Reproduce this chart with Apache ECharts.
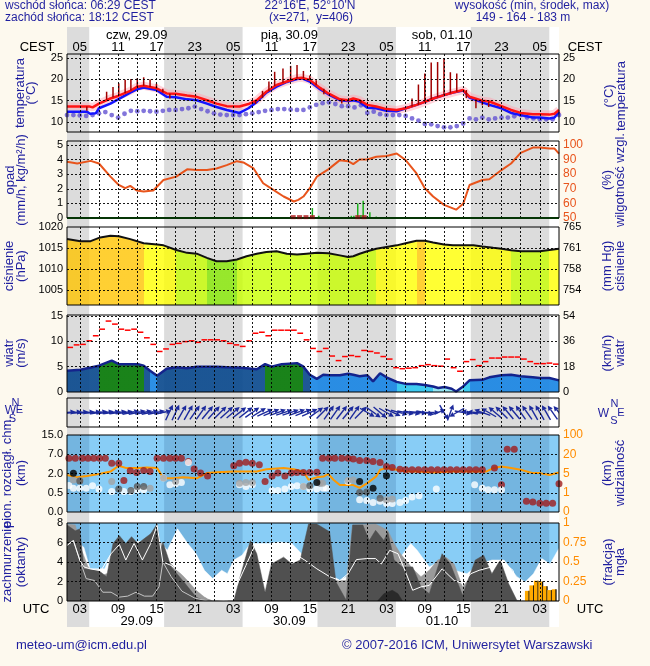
<!DOCTYPE html>
<html><head><meta charset="utf-8">
<script src="https://cdn.jsdelivr.net/npm/echarts@6.0.0/dist/echarts.min.js"></script>
<style>html,body{margin:0;padding:0;background:#fdf9ee;}#chart{width:650px;height:666px;}</style>
</head><body><div id="chart"></div>
<script>
// ================= DATA (hours counted from 29.09 00 UTC) =================
const nightBands = [[1, 4.48], [16.2, 28.48], [40.2, 52.48], [64.2, 76.48]];
const timeTicks = [3, 9, 15, 21, 27, 33, 39, 45, 51, 57, 63, 69, 75];
const utcLabels = ['03','09','15','21','03','09','15','21','03','09','15','21','03'];
const cestLabels = ['05','11','17','23','05','11','17','23','05','11','17','23','05'];
const dayCenters = [11.9, 35.8, 59.7];
const dayLabels = ['czw, 29.09', 'pią, 30.09', 'sob, 01.10'];
const dateLabels = ['29.09', '30.09', '01.10'];

const tempTicks = [10, 15, 20, 25];
const precipTicks = [0, 1, 2, 3, 4, 5];
const humidityTicks = [50, 60, 70, 80, 90, 100];
const pressureTicks = [1005, 1010, 1015, 1020];
const windTicks = [0, 5, 10, 15];
const baseLabels = ['0.0', '0.5', '2.0', '7.0', '15.0'];
const visLabels = ['0', '1', '5', '20', '100'];
const cloudTicks = [0, 2, 4, 6, 8];
const fogTicks = [0, 0.25, 0.5, 0.75, 1];

const temperature = [[1,13.6],[4.6,13.6],[5,13.4],[6,14.3],[7.8,15.5],[9,16.1],[10.9,17.3],[12,18.3],[13,18.5],[15,17.9],[16.6,16.7],[18,16.6],[19.8,16.2],[21.3,15.9],[22.9,15.1],[24.4,14.3],[26,13.7],[28,13.6],[29.4,14.2],[30.7,15.1],[32.2,17.1],[33.8,18.7],[35.4,19.5],[37,20.3],[37.7,20.4],[39,19.9],[40.6,18.0],[41.9,16.7],[43.7,15.3],[45,15.1],[45.8,15.5],[46.8,15.1],[48,14.0],[49.4,13.6],[51,13.0],[52.6,12.8],[54,13.2],[55.7,14.0],[57,14.7],[58.3,15.5],[60,16.3],[61.4,16.9],[63,17.5],[64,15.9],[66,15.0],[67.1,14.8],[69,13.7],[70.5,12.8],[72,12.1],[73.9,11.8],[75,11.8],[76.5,11.7],[77.3,11.9],[78,12.8]];
const perceived = [[1,12.4],[4.1,12.4],[4.6,11.9],[5.5,12.0],[6,13.2],[7.8,14.3],[9,15.3],[10.9,16.9],[12,17.7],[13,18.1],[15,17.5],[16.6,15.9],[18,15.8],[19.8,15.3],[21.3,15.1],[22.9,14.3],[24.4,13.5],[26,12.8],[28,12.1],[29.4,13.2],[30.7,14.7],[32.2,16.9],[33.8,18.3],[35.4,19.4],[37,20.1],[37.7,20.3],[39,19.5],[40.6,17.7],[41.9,16.5],[43.7,15.1],[45,14.9],[45.8,15.1],[46.8,14.7],[48,13.3],[49.4,13.2],[51,12.6],[52.6,12.5],[54,13.2],[55.7,14.0],[57,14.7],[58.3,15.5],[60,16.3],[61.4,16.9],[63,17.4],[64,15.7],[66,14.6],[67.1,14.0],[69,13.2],[70.5,12.1],[72,11.6],[73.9,11.0],[75,11.0],[76.5,10.8],[77.3,11.0],[78,12.4]];
// dew point, one value per hour 1..78
const dewPoint = [11.6,11.6,11.5,11.4,11.6,12.0,12.3,11.6,11.0,11.9,12.6,12.5,12.6,12.5,12.4,12.6,12.8,12.8,13.0,13.2,13.6,13.0,12.5,12.0,11.7,11.6,11.6,11.6,11.8,12.0,12.3,12.6,12.8,13.0,13.0,12.9,12.8,12.8,13.4,14.0,14.4,14.6,14.2,13.7,13.7,13.4,13.9,12.1,12.4,11.8,11.6,11.6,11.6,11.4,10.8,10.3,9.5,9.4,9.0,8.7,8.7,9.0,9.6,10.8,10.6,11.0,10.6,10.8,11.0,11.0,11.3,11.6,11.0,10.8,10.6,10.6,10.6,11.6];
// [hour, low, high]
const tempSpread = [[4.1,12.6,13.6],[7.2,15.2,17.1],[8.2,15.8,18.2],[9.1,16.2,19.1],[10.1,16.8,19.9],[11,17.4,20.1],[12,18.2,20.3],[13,18.5,20.5],[14,18.2,20.0],[15,17.9,19.0],[16,16.9,17.8],[17.1,15.5,16.6],[30.5,14.2,15.0],[31.6,15.6,17.3],[32.6,17.3,19.5],[33.5,18.4,21.8],[34.8,19.2,22.6],[36,19.8,23.2],[37,20.3,23.4],[38,20.3,22.0],[39,19.9,20.9],[40,18.6,19.8],[41.2,16.5,17.8],[44,14.3,15.3],[47,14.3,15.1],[55,13.6,15.5],[56,14.0,18.8],[57,14.7,21.4],[58,15.3,24.0],[59,15.8,24.1],[60,16.3,24.8],[61,16.7,21.7],[62,17.1,21.4],[63.5,15.6,17.5],[65,13.2,15.3],[66,13.9,15.0],[67,13.5,14.8]];

const humidity = [[1,88.5],[2.6,87.3],[4.7,89.1],[6,87.3],[7.8,78.3],[9.1,72.6],[10.1,70.4],[10.9,72],[11.9,68.8],[13,68.1],[14.5,68.8],[16.1,76],[18.1,78.3],[19.8,83.3],[21.3,82.8],[22.9,82.8],[24.4,83.9],[26,86.2],[27.6,88.9],[28.6,88],[30.2,83.9],[31.7,73.8],[33.3,69.2],[34.9,64.7],[36.5,61.3],[37.2,62.4],[38,64.7],[39,70.4],[40.1,78.3],[41.9,83.3],[43.7,89.6],[45,88.9],[45.8,86.9],[46.8,90],[48,90],[49.4,91.9],[51,92.5],[52.6,94.1],[54,89.6],[55.7,80.5],[57,70.4],[58.3,64.7],[60,59],[61.9,55.7],[63,59.7],[64,72.6],[66,76],[67.1,76.5],[69,82.8],[70.5,87.3],[72,94.6],[73.9,98.2],[75,98.2],[76.5,97.5],[77.3,97.5],[78,94.1]];
const precipitation = [[39.4,0.68],[40.4,0.16],[45.5,0.15],[45.9,0.15],[46.5,1.0],[47,0.2],[47.35,1.18],[47.9,0.1],[48.4,0.4],[49.4,0.1],[50.4,0.06]];
const convectiveMarks = [36.4, 37.4, 38.4, 39.4, 46.5, 47.5];

const pressure = [[1,1017.2],[3.1,1016.7],[4.7,1016.7],[6.2,1017.6],[7.8,1018.0],[9.1,1017.9],[10.9,1017.2],[13,1016.2],[15.1,1015.9],[16.1,1015.7],[18.1,1014.6],[19.8,1013.9],[21.3,1013.7],[22.9,1012.7],[24.4,1011.9],[26,1011.9],[27.6,1012.3],[29.1,1013.1],[30.7,1013.7],[32.2,1014.1],[33.8,1014.3],[35.4,1013.7],[37,1013.5],[38.5,1013.7],[40.1,1013.9],[41.9,1013.8],[43.7,1013.3],[45,1012.9],[45.8,1013.1],[46.8,1013.7],[48,1014.3],[49.4,1014.9],[51,1015.3],[52.6,1015.7],[54,1016.2],[55.7,1016.8],[57,1016.8],[58.3,1016.4],[60,1015.9],[61.4,1015.7],[63,1015.7],[64.6,1015.7],[66,1015.4],[67.7,1015.1],[69,1014.9],[70.5,1014.5],[72,1014.3],[73.9,1014.3],[75,1014.3],[76.5,1014.6],[78,1014.9]];

const windSpeed = [[1,4.2],[3.1,4.4],[6,5.2],[8,6.2],[9.1,5.5],[12.1,5.5],[13,5.2],[14,4.2],[15.1,3.2],[16.6,4.6],[18.1,4.9],[19.8,4.7],[21.3,5.0],[22.9,5.0],[24.4,5.0],[26,4.9],[27.6,4.85],[29.1,4.7],[30.7,4.5],[32,5.5],[33,5.0],[34.6,5.5],[37,5.7],[38,5.0],[39,3.4],[40.1,2.6],[41.1,3.4],[42.1,3.3],[43.7,3.3],[45,3.6],[45.8,3.4],[46.8,3.1],[48,3.3],[48.9,2.1],[50,3.7],[51,2.9],[52.6,2.0],[54,1.6],[55.7,1.6],[57,1.4],[58.3,1.1],[59.1,0.8],[60.1,1.0],[61.2,0.65],[61.9,0.1],[63,1.1],[64,2.3],[66,2.4],[67.1,2.9],[69,3.3],[70.5,3.4],[72,3.1],[73.9,2.9],[75,2.75],[76.5,2.75],[78,2.3]];
// gusts, one value per hour 1..77 (hour h to h+1)
const gusts = [8.8,9.3,9.4,10.1,11.1,12.4,14.0,13.4,12.4,12.2,12.4,11.8,10.7,9.4,8.0,8.5,9.4,9.6,9.95,10.1,9.8,10.3,10.3,10.3,10.1,9.6,9.3,9.0,10.1,11.6,11.8,11.1,12.2,12.2,12.2,12.2,11.6,10.3,8.6,8.0,8.6,7.1,6.2,7.0,7.2,7.0,8.2,8.0,7.7,7.0,6.5,4.8,4.6,4.7,4.8,5.2,5.4,5.2,5.1,6.5,4.8,4.1,6.0,6.4,5.2,6.0,6.7,6.7,6.9,6.9,6.9,6.5,6.0,5.6,5.6,5.7,5.5];
// wind direction (deg, from), one per hour 1..78
const windDirection = [265,265,265,265,265,262,262,262,262,262,258,258,258,258,258,258,205,205,210,210,215,215,220,222,225,228,230,232,232,235,238,245,248,250,252,252,250,248,245,235,225,215,215,218,220,215,225,300,305,310,300,295,285,280,280,275,280,270,250,330,200,60,280,100,95,110,120,130,135,140,140,145,145,150,150,150,145,140];

// visibility (km) and cloud heights (km)
const visibility = [[1,4.7],[2.6,4.2],[4.1,4.5],[6,4.9],[7.8,6.5],[9.1,11],[10.3,9.2],[12.1,9.2],[13.5,9.6],[15.1,9.2],[16.1,4.0],[17.6,4.0],[19.2,4.2],[21.3,4.0],[22.9,5.3],[24.4,6.0],[27.1,6.5],[29.1,6.5],[30.7,6.5],[32.2,8.3],[34.9,9.2],[36.5,8.3],[38,6.5],[38.8,3.7],[40.1,4.2],[41.2,4.4],[41.9,4.9],[42.7,3.7],[43.7,2.6],[45,2.6],[45.8,2.6],[46.8,2.0],[48,3.0],[49.4,4.4],[50,7.9],[51,9.2],[52.6,7.9],[54,6.5],[55.7,6.5],[58.3,5.8],[61.4,6.5],[64,6.5],[66.6,6.5],[67.7,9.2],[69,10.4],[70.5,9.2],[72,7.9],[73.9,5.3],[75,5.3],[76.5,4.7],[78,5.8]];
const cloudTop = [[1.3,5.95],[2.3,5.95],[3.4,5.95],[4.3,5.95],[5.2,5.95],[6.1,5.95],[7,5.95],[8,4.66],[9.1,4.66],[9.9,1.46],[10.9,2.7],[11.9,2.26],[13,2.78],[14,2.5],[15.1,5.95],[16.1,5.95],[17.1,5.95],[18,5.95],[18.9,5.95],[20,5.1],[20.9,3.2],[21.9,2.1],[23,1.8],[27.1,4.0],[28,4.66],[29,4.9],[30,4.66],[31.1,4.25],[32,1.38],[33.1,1.8],[34,2.1],[35.1,1.8],[36.1,2.1],[37,2.26],[38,2.26],[39,2.26],[40.1,2.3],[41,5.95],[42,5.95],[42.9,5.95],[44,5.95],[45,5.95],[45.8,5.75],[46.8,5.4],[47.9,5.4],[48.9,5.1],[50,4.85],[51,3.8],[51.9,3.55],[53.1,3.1],[54,2.95],[55,2.95],[56,2.95],[57,2.95],[58,2.95],[59,2.95],[60,2.95],[61,2.95],[62,2.95],[63,2.95],[64,2.95],[65,2.95],[66,2.95],[67.9,3.4],[69,1.12],[69.9,9.1],[71,9.1],[72.9,0.28],[73.9,0.26],[75,0.23],[76,0.23],[77,0.23],[78,1.2]];
const baseWhite = [[1.3,1.07],[2,0.86],[3,0.86],[4,0.86],[5,1.04],[6,0.79],[8,0.6],[9.9,0.6],[11,0.6],[12,0.73],[13,0.73],[16.1,1.64],[17.1,1.12],[18,1.2],[18.9,1.3],[20,4.85],[28,1.12],[29,0.99],[30,1.12],[33.1,0.68],[34,0.68],[35.1,0.79],[36.1,0.99],[37,1.04],[38,0.99],[39,0.79],[40.1,0.79],[41.1,0.86],[41.6,0.86],[45,1.38],[46.8,0.32],[47.9,0.3],[48.9,0.25],[50,0.28],[51,0.22],[51.9,0.22],[53.1,0.25],[54,0.3],[55,0.39],[56.1,0.42],[58.8,0.79],[64.8,1.12],[66,0.86],[66.9,0.73],[67.9,0.73],[69,0.73]];
const baseGray = [[2,1.5],[3,1.46],[8,1.38],[14,0.86],[16.1,1.64],[18,1.38],[28,1.25],[29,1.3],[30,1.3],[38,0.99],[40.6,1.25],[41,1.25],[45,1.46],[45.8,1.5],[51,0.32],[51.9,0.34]];
const baseDark = [[3,1.42],[9.1,0.79],[11,0.68],[12,0.99],[13,0.99],[39,1.04],[46.8,0.52],[47.9,0.55],[50,0.36]];
const baseBlack = [[2,2.06],[40.1,1.3],[46.8,1.38],[48.9,0.86],[51,1.82]];

// cloud cover (oktas)
const cloudHigh = [[1,6.0],[1.4,6.05],[2,6.4],[3.65,5.5],[4.6,3.3],[6.9,3.3],[8.1,5.2],[9.5,5.7],[11.5,6.05],[13.4,6.2],[15.1,6.4],[16.7,5.2],[18.3,7.4],[19.9,5.9],[21.2,4.85],[22.5,3.15],[23.8,2.3],[25.2,3.15],[26.1,2.8],[27.1,4.2],[28.4,4.7],[29.7,5.9],[32.6,5.9],[34.3,6.05],[36.2,5.9],[38.2,4.5],[40.1,3.8],[42.1,2.8],[43.7,2.1],[46,3.0],[47.3,3.65],[49.3,4.2],[51.2,5.2],[53.2,4.5],[54.8,5.9],[55.8,5.2],[57.7,3.5],[59.7,4.2],[61.6,3.15],[63.6,2.8],[65.5,3.8],[67.5,4.2],[69.4,4.2],[71.4,2.5],[72.7,1.95],[74,2.8],[75.3,4.35],[76.6,3.8],[78,5.4]];
const cloudMid = [[1,7.9],[2.3,7.8],[3.3,5.2],[4.3,3.5],[6,2.5],[8,3.0],[10,3.0],[12,3.0],[14,3.5],[15.7,6.0],[16.7,4.2],[18,3.3],[19.3,2.5],[21.2,1.1],[22.5,0.4],[23.8,0],[41,0],[42.7,2.1],[44.7,2.1],[45.7,7.8],[49.3,7.9],[51.2,7.25],[52.2,5.9],[53.2,4.85],[55.1,3.3],[56.4,2.5],[57.7,3.15],[59,4.2],[60.3,4.5],[61.6,3.8],[62.9,1.45],[64.2,2.5],[66,2.0],[68,1.5],[70,0.8],[71.4,0],[78,0]];
const cloudLow = [[1,7.8],[2.3,7.2],[3,7.4],[3.65,3.3],[5.9,3.15],[7.2,2.5],[8.2,5.9],[9.2,6.7],[10.2,5.9],[11.1,6.6],[12.1,5.9],[13.1,6.4],[14.1,6.9],[15.1,7.9],[15.7,5.2],[16,6.05],[17.3,3.5],[19.3,1.95],[21.2,0.4],[22.5,0],[27.1,0],[28.1,2.5],[29.7,6.2],[30.7,4.85],[32,0.9],[33,3.8],[34.9,4.5],[36.2,3.8],[37.5,4.2],[38.8,7.9],[40.1,7.9],[42.1,7.1],[43.1,1.95],[44.7,0.07],[45.7,7.8],[47.3,7.8],[48.3,6.2],[49.3,7.25],[50.6,6.2],[51.2,7.1],[52.2,4.2],[53.5,3.5],[55.1,3.5],[56.4,1.45],[57.7,0.75],[59.7,4.85],[61,3.8],[62.9,0.6],[64.9,4.2],[66.2,4.7],[67.5,2.8],[68.8,4.2],[70.1,1.8],[71.4,0.07],[72.7,0],[78,0]];
const cloudVeryLow = [[49.6,0],[50.6,0.75],[51.9,1.1],[52.8,0.75],[53.5,0]];
const cloudLineWhite = [[1,5.7],[2,6.2],[3,4.2],[3.65,3.5],[4.6,3.3],[6.3,3.1],[7.9,4.85],[9.2,5.8],[10.2,4.2],[11.5,5.9],[12.8,4.2],[14.1,5.9],[15.1,7.75],[16,4.0],[17.3,3.65],[19,2.8],[21,1.5],[23,0.3],[26,0],[27.5,1.5],[29,3.65],[30.4,5.7],[31.7,5.5],[33.6,5.2],[36.2,5.0],[38.2,4.2],[40.1,3.3],[42.1,2.5],[43.7,2.1],[45,2.8],[46.3,4.25],[47.9,4.35],[49.3,4.35],[50.2,3.8],[51.5,5.2],[52.8,4.85],[54.1,2.8],[55.1,1.1],[56.4,1.45],[57.7,1.6],[59.7,3.3],[61.6,2.1],[62.9,1.8],[64.2,2.8],[65.5,3.15],[67.5,3.5],[68.8,4.2],[70.8,3.15],[72.1,0],[78,0]];
const cloudLineGray = [[1,5.7],[2,6.2],[3,4.2],[4,2.3],[5.3,2.1],[6.6,0.9],[7.9,0.9],[9.2,0.4],[10.5,0.5],[11.8,0.9],[13.1,0.5],[14.4,0.5],[15.4,1.45],[16,4.0],[17.3,2.5],[19,1.0],[21,0.3],[23,0]];
const fogFraction = [[73,0.13],[73.7,0.2],[74.4,0.26],[75.1,0.25],[75.8,0.19],[76.5,0.14],[77.2,0.15]];

// ================= HELPERS =================
const H0 = 1, H1 = 78;
const FONT = '"Liberation Sans", Arial, sans-serif';
const NAVY = '#1f1f9f';
const baseBreaks = [0, 0.5, 2, 7, 15];
const visBreaks = [0, 1, 5, 20, 100];
function toLevel(v, br) {
  for (let i = 1; i < br.length; i++) if (v <= br[i]) return (i - 1) + (v - br[i - 1]) / (br[i] - br[i - 1]);
  return br.length - 1;
}
const gridHours = []; for (let h = 3; h <= 75; h += 3) gridHours.push(h);

const panels = [
  {top: 54, height: 78},   // 1 temperature
  {top: 141, height: 77},  // 2 precipitation
  {top: 227, height: 78},  // 3 pressure
  {top: 315, height: 77},  // 4 wind
  {top: 398, height: 29},  // 5 wind direction
  {top: 435, height: 77},  // 6 cloud base / visibility
  {top: 523, height: 78}   // 7 cloud cover
];
const grids = [{left: 67, top: 27, width: 492, height: 600, show: true, backgroundColor: '#ffffff', borderWidth: 0, z: 0}]
  .concat(panels.map(p => ({left: 67, top: p.top, width: 492, height: p.height, show: true,
    backgroundColor: 'transparent', borderColor: '#000', borderWidth: 1, z: 15})));

function xAx(g, o) {
  return Object.assign({type: 'value', gridIndex: g, min: H0, max: H1, z: 20,
    axisLine: {show: false}, axisTick: {show: false}, splitLine: {show: false}, axisLabel: {show: false}}, o || {});
}
function yAx(g, min, max, o) {
  return Object.assign({type: 'value', gridIndex: g, min: min, max: max, z: 20,
    axisLine: {show: false}, axisTick: {show: false}, splitLine: {show: false}, axisLabel: {show: false}}, o || {});
}
function lab(values, fmt, color, extra) {
  return Object.assign({show: true, customValues: values, formatter: fmt, color: color || '#000',
    fontSize: 11, fontFamily: FONT, margin: 4}, extra || {});
}
const timeLab = {fontSize: 13, fontFamily: FONT, color: '#000'};

const xAxes = [];
for (let g = 0; g < 8; g++) xAxes.push(xAx(g));
xAxes[1] = xAx(1, {position: 'top', axisLabel: Object.assign({show: true, customValues: timeTicks,
  formatter: v => cestLabels[timeTicks.indexOf(v)] || '', margin: 0}, timeLab)});
xAxes[7] = xAx(7, {position: 'bottom', axisLabel: Object.assign({show: true, customValues: timeTicks,
  formatter: v => utcLabels[timeTicks.indexOf(v)] || '', margin: 2}, timeLab)});
xAxes.push(xAx(1, {position: 'top', offset: 12.5, axisLabel: Object.assign({show: true, customValues: dayCenters,
  formatter: v => dayLabels[dayCenters.indexOf(v)] || '', margin: 0}, timeLab)}));
xAxes.push(xAx(7, {position: 'bottom', offset: 11.5, axisLabel: Object.assign({show: true, customValues: dayCenters,
  formatter: v => dateLabels[dayCenters.indexOf(v)] || '', margin: 2}, timeLab)}));

const ORANGE = '#ff8c00', HUMC = '#e8541c';
const yAxes = [
  yAx(0, 0, 1),
  yAx(1, 7.6, 26, {axisLabel: lab(tempTicks, v => String(v))}),
  yAx(1, 7.6, 26, {position: 'right', axisLabel: lab(tempTicks, v => String(v))}),
  yAx(2, 0, 5.27, {axisLabel: lab(precipTicks, v => String(v))}),
  yAx(2, 50, 102.7, {position: 'right', axisLabel: lab(humidityTicks, v => String(v), HUMC, {fontSize: 12})}),
  yAx(3, 1001.4, 1020.1, {axisLabel: lab(pressureTicks, v => String(v))}),
  yAx(3, 1001.4, 1020.1, {position: 'right', axisLabel: lab(pressureTicks, v => String(Math.round(v * 0.750062)))}),
  yAx(4, 0, 15.2, {axisLabel: lab(windTicks, v => String(v))}),
  yAx(4, 0, 15.2, {position: 'right', axisLabel: lab(windTicks, v => String(Math.round(v * 3.6)))}),
  yAx(5, 0, 1),
  yAx(6, 0, 4, {axisLabel: lab([0, 1, 2, 3, 4], v => baseLabels[v])}),
  yAx(6, 0, 4, {position: 'right', axisLabel: lab([0, 1, 2, 3, 4], v => visLabels[v], ORANGE, {fontSize: 12})}),
  yAx(7, 0, 8, {axisLabel: lab(cloudTicks, v => String(v))}),
  yAx(7, 0, 1, {position: 'right', axisLabel: lab(fogTicks, v => String(v), ORANGE, {fontSize: 12})})
];
const leftY = [null, 1, 3, 5, 7, 9, 10, 12];

const S = [];
function add(s) { S.push(Object.assign({animation: false, silent: true}, s)); return S.length - 1; }
function dotted(xs, ys) {
  return {silent: true, symbol: ['none', 'none'], z: 10, label: {show: false}, emphasis: {disabled: true},
    lineStyle: {color: '#000', type: [2, 2], width: 1, opacity: 0.9},
    data: xs.map(v => ({xAxis: v})).concat(ys.map(v => ({yAxis: v})))};
}
function vbar(color, w) {
  return (p, api) => {
    const a = api.coord([api.value(0), api.value(1)]), b = api.coord([api.value(0), api.value(2)]);
    return {type: 'line', shape: {x1: a[0], y1: a[1], x2: b[0], y2: b[1]}, style: {stroke: color, lineWidth: w}};
  };
}
function pieces(series, classify) {
  const out = [];
  for (let i = 0; i < series.length - 1; i++) {
    const col = classify((series[i][1] + series[i + 1][1]) / 2);
    const last = out[out.length - 1];
    if (last && last.color === col) last.lt = series[i + 1][0];
    else out.push({gte: series[i][0], lt: series[i + 1][0], color: col});
  }
  const l = out[out.length - 1]; l.lte = l.lt; delete l.lt;
  return out;
}
function pressureColour(p) { return p >= 1016.6 ? '#ffc400' : p >= 1014.7 ? '#ffff00' : p >= 1012.5 ? '#c8ff00' : '#86ea00'; }
function windColour(v) { return v > 5.05 ? '#067806' : v >= 3.8 ? '#0b4a8e' : v >= 2.2 ? '#1a86e4' : v >= 1.2 ? '#2ec6ee' : '#8ee4f0'; }

// ---- background day/night bands ----
add({type: 'line', xAxisIndex: 0, yAxisIndex: 0, data: [],
  markArea: {silent: true, z: 1, itemStyle: {color: '#dcdcdc'}, data: nightBands.map(b => [{xAxis: b[0]}, {xAxis: b[1]}])}});

// ---- dotted grid lines per panel ----
const hLines = {1: tempTicks, 2: [1, 2, 3, 4, 5], 3: [1005, 1010, 1015], 4: [5, 10, 15], 5: [], 6: [1, 2, 3], 7: [2, 4, 6]};
for (let g = 1; g <= 7; g++) add({type: 'line', xAxisIndex: g, yAxisIndex: leftY[g], data: [], z: 10, markLine: dotted(gridHours, hLines[g])});

// ---- temperature ----
add({type: 'line', xAxisIndex: 1, yAxisIndex: 1, data: temperature, symbol: 'none', lineStyle: {color: 'rgba(255,160,175,0.45)', width: 8}, z: 4});
add({type: 'scatter', xAxisIndex: 1, yAxisIndex: 1, data: dewPoint.map((v, i) => [i + 1, v]), symbolSize: 4.8, itemStyle: {color: '#6353d2'}, z: 5});
add({type: 'line', xAxisIndex: 1, yAxisIndex: 1, data: perceived, symbol: 'none', lineStyle: {color: '#1414ff', width: 2.5}, z: 6});
add({type: 'line', xAxisIndex: 1, yAxisIndex: 1, data: temperature, symbol: 'none', lineStyle: {color: '#ff1414', width: 2.5}, z: 7});
add({type: 'custom', xAxisIndex: 1, yAxisIndex: 1, data: tempSpread, encode: {x: 0, y: [1, 2]}, renderItem: vbar('#a00000', 1.5), z: 8, clip: true});

// ---- precipitation / humidity ----
add({type: 'line', xAxisIndex: 2, yAxisIndex: 3, data: [], markLine: {silent: true, symbol: ['none', 'none'], z: 11, label: {show: false},
  lineStyle: {color: '#0a6a0a', type: 'solid', width: 2}, data: [{yAxis: 0}]}});
add({type: 'custom', xAxisIndex: 2, yAxisIndex: 3, data: precipitation.map(d => [d[0], 0, d[1]]), encode: {x: 0, y: [1, 2]}, renderItem: vbar('#18b018', 1.5), z: 6, clip: true});
add({type: 'scatter', xAxisIndex: 2, yAxisIndex: 3, data: convectiveMarks.map(h => [h, 0.06]), symbol: 'rect', symbolSize: [5, 4], itemStyle: {color: '#b01818'}, z: 12});
add({type: 'line', xAxisIndex: 2, yAxisIndex: 4, data: humidity, symbol: 'none', lineStyle: {color: HUMC, width: 2}, z: 7});

// ---- pressure ----
const presArea = add({type: 'line', xAxisIndex: 3, yAxisIndex: 5, data: pressure, symbol: 'none', lineStyle: {opacity: 0}, areaStyle: {opacity: 0.8, origin: 'start'}, z: 4});
add({type: 'line', xAxisIndex: 3, yAxisIndex: 5, data: pressure, symbol: 'none', lineStyle: {color: '#111', width: 2}, z: 7});

// ---- wind ----
const windArea = add({type: 'line', xAxisIndex: 4, yAxisIndex: 7, data: windSpeed, symbol: 'none', lineStyle: {opacity: 0}, areaStyle: {opacity: 0.92, origin: 'start'}, z: 4});
add({type: 'line', xAxisIndex: 4, yAxisIndex: 7, data: windSpeed, symbol: 'none', lineStyle: {color: '#14238c', width: 2.5}, z: 7});
add({type: 'custom', xAxisIndex: 4, yAxisIndex: 7, data: gusts.map((v, i) => [i + 1, v]), encode: {x: 0, y: 1}, z: 8, clip: true,
  renderItem: (p, api) => {
    const a = api.coord([api.value(0) + 0.05, api.value(1)]), b = api.coord([api.value(0) + 0.95, api.value(1)]);
    return {type: 'line', shape: {x1: a[0], y1: a[1], x2: b[0], y2: b[1]}, style: {stroke: '#ff0000', lineWidth: 1.5}};
  }});

// ---- wind direction arrows ----
add({type: 'custom', xAxisIndex: 5, yAxisIndex: 9, data: windDirection.map((d, i) => [i + 1, 0.5, d]), encode: {x: 0, y: 1}, z: 8, clip: true,
  renderItem: (p, api) => {
    const c = api.coord([api.value(0), api.value(1)]);
    const to = (api.value(2) + 180) * Math.PI / 180;
    const dx = Math.sin(to), dy = -Math.cos(to), L = 8.5, hl = 5, hw = 2.6;
    const x1 = c[0] - dx * L, y1 = c[1] - dy * L, x2 = c[0] + dx * L, y2 = c[1] + dy * L;
    const bx = x2 - dx * hl, by = y2 - dy * hl, px = -dy, py = dx;
    return {type: 'group', children: [
      {type: 'line', shape: {x1: x1, y1: y1, x2: bx, y2: by}, style: {stroke: '#1c2a9c', lineWidth: 1.4}},
      {type: 'polygon', shape: {points: [[x2, y2], [bx + px * hw, by + py * hw], [bx - px * hw, by - py * hw]]}, style: {fill: '#1c2a9c'}}
    ]};
  }});

// ---- cloud base / visibility ----
function blueBg(xi, yi) {
  add({type: 'line', xAxisIndex: xi, yAxisIndex: yi, data: [], markArea: {silent: true, z: 2, itemStyle: {color: '#88cdf6'}, data: [[{xAxis: H0}, {xAxis: H1}]]}});
  add({type: 'line', xAxisIndex: xi, yAxisIndex: yi, data: [], markArea: {silent: true, z: 3, itemStyle: {color: 'rgba(10,45,100,0.15)'}, data: nightBands.map(b => [{xAxis: b[0]}, {xAxis: b[1]}])}});
}
blueBg(6, 10);
add({type: 'line', xAxisIndex: 6, yAxisIndex: 10, data: visibility.map(d => [d[0], toLevel(d[1], visBreaks)]), symbol: 'none', lineStyle: {color: '#ff9900', width: 2}, z: 6});
function dots(data, color, z) {
  add({type: 'scatter', xAxisIndex: 6, yAxisIndex: 10, data: data.map(d => [d[0], toLevel(d[1], baseBreaks)]), symbolSize: 7, itemStyle: {color: color}, z: z});
}
dots(cloudTop, '#a01c1c', 7);
dots(baseWhite, '#ffffff', 7);
dots(baseGray, '#a4a4a4', 7.2);
dots(baseDark, '#5a5a5a', 7.4);
dots(baseBlack, '#000000', 7.6);

// ---- cloud cover / fog ----
blueBg(7, 12);
function cloudArea(data, color, z) {
  add({type: 'line', xAxisIndex: 7, yAxisIndex: 12, data: data, symbol: 'none', lineStyle: {color: color, width: 0.5}, areaStyle: {color: color, opacity: 1, origin: 'start'}, z: z});
}
cloudArea(cloudHigh, '#ffffff', 4);
cloudArea(cloudMid, '#9a9a9a', 5);
cloudArea(cloudLow, '#505050', 6);
cloudArea(cloudVeryLow, '#2a2a2a', 6.5);
add({type: 'line', xAxisIndex: 7, yAxisIndex: 12, data: cloudLineGray, symbol: 'none', lineStyle: {color: '#c4c4c4', width: 1}, z: 7});
add({type: 'line', xAxisIndex: 7, yAxisIndex: 12, data: cloudLineWhite, symbol: 'none', lineStyle: {color: '#ffffff', width: 1}, z: 7.2});
add({type: 'custom', xAxisIndex: 7, yAxisIndex: 13, data: fogFraction, encode: {x: 0, y: 1}, z: 8, clip: true,
  renderItem: (p, api) => {
    const a = api.coord([api.value(0) - 0.33, 0]), b = api.coord([api.value(0) + 0.33, api.value(1)]);
    return {type: 'group', children: [
      {type: 'rect', shape: {x: a[0], y: b[1], width: b[0] - a[0], height: a[1] - b[1]}, style: {fill: '#ffaa00'}},
      {type: 'line', shape: {x1: b[0], y1: b[1], x2: b[0], y2: a[1]}, style: {stroke: '#111', lineWidth: 1.3}}
    ]};
  }});

// ================= TEXTS =================
function txt(text, x, y, o) {
  o = o || {};
  const al = o.align || 'center';
  return {type: 'text', x: x, y: y, z: 100, silent: true, rotation: o.rot || 0,
    style: {text: text, fill: o.color || NAVY, font: (o.size || 12) + 'px ' + FONT,
      align: al, verticalAlign: 'middle', textAlign: al, textVerticalAlign: 'middle'}};
}
const R = Math.PI / 2;
const G = [
  txt('wschód słońca: 06:29 CEST', 5, 6, {align: 'left'}),
  txt('zachód słońca: 18:12 CEST', 5, 18, {align: 'left'}),
  txt("22°16'E, 52°10'N", 310, 6),
  txt('(x=271,  y=406)', 311, 18),
  txt('wysokość (min, środek, max)', 532, 6),
  txt('149 - 164 - 183 m', 523, 18),
  txt('CEST', 37, 47.5, {color: '#000', size: 13}),
  txt('CEST', 585, 47.5, {color: '#000', size: 13}),
  txt('UTC', 36, 609.5, {color: '#000', size: 13}),
  txt('UTC', 590, 609.5, {color: '#000', size: 13}),
  txt('meteo-um@icm.edu.pl', 16, 645, {align: 'left', size: 13}),
  txt('© 2007-2016 ICM, Uniwersytet Warszawski', 342, 645, {align: 'left', size: 13}),
  // left titles
  txt('temperatura', 20, 93, {rot: R, size: 13}), txt('(°C)', 31, 93, {rot: R, size: 13}),
  txt('opad', 10, 180, {rot: R, size: 13}), txt('(mm/h, kg/m²/h)', 21, 180, {rot: R, size: 13}),
  txt('ciśnienie', 9, 266, {rot: R, size: 13}), txt('(hPa)', 21, 266, {rot: R, size: 13}),
  txt('wiatr', 9, 353, {rot: R, size: 13}), txt('(m/s)', 21, 353, {rot: R, size: 13}),
  txt('pion. rozciągł. chm.', 7, 472, {rot: R, size: 13}), txt('(km)', 21, 473, {rot: R, size: 13}),
  txt('zachmurzenie', 7, 562, {rot: R, size: 13}), txt('(oktanty)', 21, 562, {rot: R, size: 13}),
  // right titles
  txt('(°C)', 609, 96, {rot: R, size: 13}), txt('temperatura', 621, 96, {rot: R, size: 13}),
  txt('(%)', 607, 180, {rot: R, size: 13}), txt('wilgotność wzgl.', 620, 180, {rot: R, size: 13}),
  txt('(mm Hg)', 607, 266, {rot: R, size: 13}), txt('ciśnienie', 620, 266, {rot: R, size: 13}),
  txt('(km/h)', 607, 353, {rot: R, size: 13}), txt('wiatr', 620, 353, {rot: R, size: 13}),
  txt('(km)', 607, 473, {rot: R, size: 13}), txt('widzialność', 620, 473, {rot: R, size: 13}),
  txt('(frakcja)', 608, 562, {rot: R, size: 13}), txt('mgła', 620, 562, {rot: R, size: 13}),
  // compass labels
  txt('W', 10.5, 411, {size: 12}), txt('N', 15.5, 403, {size: 11}), txt('E', 19.5, 410, {size: 11}), txt('S', 12.5, 419, {size: 11}),
  txt('W', 603.5, 414, {size: 12}), txt('N', 614.5, 404, {size: 11}), txt('E', 621, 412.5, {size: 11}), txt('S', 614, 421, {size: 11})
];

const chart = echarts.init(document.getElementById('chart'), null, {renderer: 'canvas', width: 650, height: 666});
chart.setOption({
  animation: false,
  backgroundColor: '#fdf9ee',
  textStyle: {fontFamily: FONT},
  grid: grids,
  xAxis: xAxes,
  yAxis: yAxes,
  visualMap: [
    {type: 'piecewise', show: false, dimension: 0, seriesIndex: presArea, pieces: pieces(pressure, pressureColour)},
    {type: 'piecewise', show: false, dimension: 0, seriesIndex: windArea, pieces: pieces(windSpeed, windColour)}
  ],
  series: S,
  graphic: G
});
</script></body></html>
